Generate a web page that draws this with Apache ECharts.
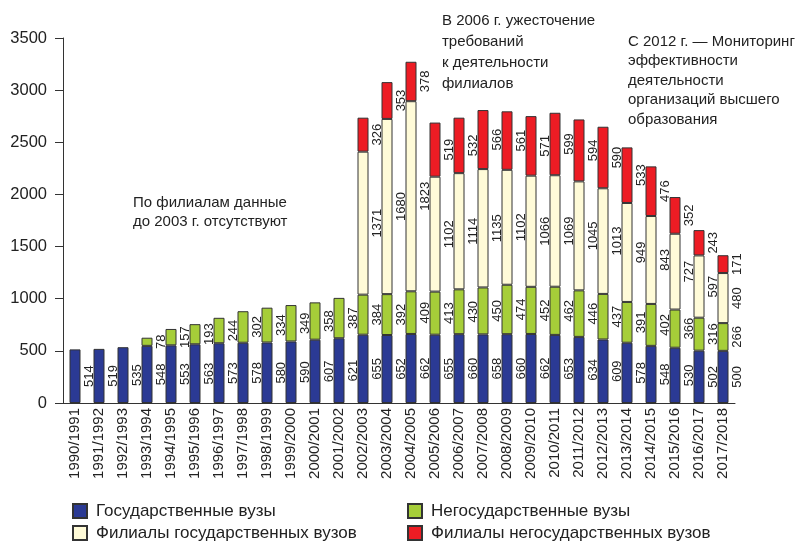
<!DOCTYPE html>
<html>
<head>
<meta charset="utf-8">
<script src="https://cdn.jsdelivr.net/npm/echarts@6/dist/echarts.min.js"></script>
<style>
  html, body { margin: 0; padding: 0; background: #fff; }
  #chart { width: 806px; height: 541px; }
</style>
</head>
<body>
<div id="chart"></div>
<script>
// учебные годы
const years = [
  '1990/1991', '1991/1992', '1992/1993', '1993/1994', '1994/1995', '1995/1996', '1996/1997',
  '1997/1998', '1998/1999', '1999/2000', '2000/2001', '2001/2002', '2002/2003', '2003/2004',
  '2004/2005', '2005/2006', '2006/2007', '2007/2008', '2008/2009', '2009/2010', '2010/2011',
  '2011/2012', '2012/2013', '2013/2014', '2014/2015', '2015/2016', '2016/2017', '2017/2018'
]

// государственные вузы
const govUni = [514, 519, 535, 548, 553, 563, 573, 578, 580, 590, 607, 621, 655, 652,
  662, 655, 660, 658, 660, 662, 653, 634, 609, 578, 548, 530, 502, 500]

// негосударственные вузы
const privUni = [null, null, null, 78, 157, 193, 244, 302, 334, 349, 358, 387, 384, 392,
  409, 413, 430, 450, 474, 452, 462, 446, 437, 391, 402, 366, 316, 266]

// филиалы государственных вузов (до 2003 г. данных нет)
const govBranch = [null, null, null, null, null, null, null, null, null, null, null, null, 1371, 1680,
  1823, 1102, 1114, 1135, 1102, 1066, 1069, 1045, 1013, 949, 843, 727, 597, 480]

// филиалы негосударственных вузов
const privBranch = [null, null, null, null, null, null, null, null, null, null, null, null, 326, 353,
  378, 519, 532, 566, 561, 571, 599, 594, 590, 533, 476, 352, 243, 171]

const yTicks = [0, 500, 1000, 1500, 2000, 2500, 3000, 3500]

const seriesNames = [
  'Государственные вузы',
  'Негосударственные вузы',
  'Филиалы государственных вузов',
  'Филиалы негосударственных вузов'
]
const colors = ['#2B3A94', '#A6CE39', '#FFFBD8', '#ED1C24']
const seriesData = [govUni, privUni, govBranch, privBranch]

const chart = echarts.init(document.getElementById('chart'))

const baseFont = '"Liberation Sans", Arial, sans-serif'

// позиции пунктов легенды: две колонки по два ряда
const legendPos = [[72, 501], [407, 501], [72, 523], [407, 523]]

const option = {
  animation: false,
  backgroundColor: '#fff',
  grid: { left: 63, right: 71, top: 38, bottom: 138 },
  xAxis: {
    type: 'category',
    data: years,
    axisLine: { lineStyle: { color: '#333', width: 1 } },
    axisTick: { interval: 0, length: 8, lineStyle: { color: '#333' } },
    axisLabel: {
      interval: 0,
      rotate: 90,
      margin: 5,
      color: '#222',
      fontFamily: baseFont,
      fontSize: 15
    }
  },
  yAxis: {
    type: 'value',
    min: yTicks[0],
    max: yTicks[yTicks.length - 1],
    interval: 500,
    axisLine: { show: true, lineStyle: { color: '#333', width: 1 } },
    axisTick: { show: true, length: 8, lineStyle: { color: '#333' } },
    splitLine: { show: false },
    axisLabel: {
      color: '#222',
      fontFamily: baseFont,
      fontSize: 16.5,
      margin: 16,
      formatter: v => String(v)
    }
  },
  legend: seriesNames.map((name, i) => ({
    left: legendPos[i][0],
    top: legendPos[i][1],
    padding: 0,
    icon: 'rect',
    itemWidth: 14,
    itemHeight: 14,
    data: [name],
    textStyle: { fontFamily: baseFont, fontSize: 17, color: '#222', lineHeight: 20, padding: [0, 0, 0, 4] }
  })),
  graphic: [
    {
      type: 'text',
      left: 133,
      top: 193,
      style: {
        text: 'По филиалам данные\nдо 2003 г. отсутствуют',
        font: '15px ' + baseFont,
        fill: '#222',
        lineHeight: 19,
        align: 'center',
        width: 150
      }
    },
    {
      type: 'text',
      left: 442,
      top: 11,
      style: {
        text: 'В 2006 г. ужесточение\nтребований\nк деятельности\nфилиалов',
        font: '15px ' + baseFont,
        fill: '#222',
        lineHeight: 20.7
      }
    },
    {
      type: 'text',
      left: 628,
      top: 32,
      style: {
        text: 'С 2012 г. — Мониторинг\nэффективности\nдеятельности\nорганизаций высшего\nобразования',
        font: '15px ' + baseFont,
        fill: '#222',
        lineHeight: 19.5
      }
    }
  ],
  series: seriesData.map((data, i) => ({
    name: seriesNames[i],
    type: 'bar',
    stack: 'total',
    barWidth: 11,
    data: data,
    itemStyle: { color: colors[i], borderColor: '#333', borderWidth: 1 },
    label: {
      show: true,
      position: 'right',
      rotate: 90,
      align: 'center',
      verticalAlign: 'top',
      distance: 2,
      color: '#222',
      fontFamily: baseFont,
      fontSize: 13
    }
  }))
}

chart.setOption(option)
</script>
</body>
</html>
